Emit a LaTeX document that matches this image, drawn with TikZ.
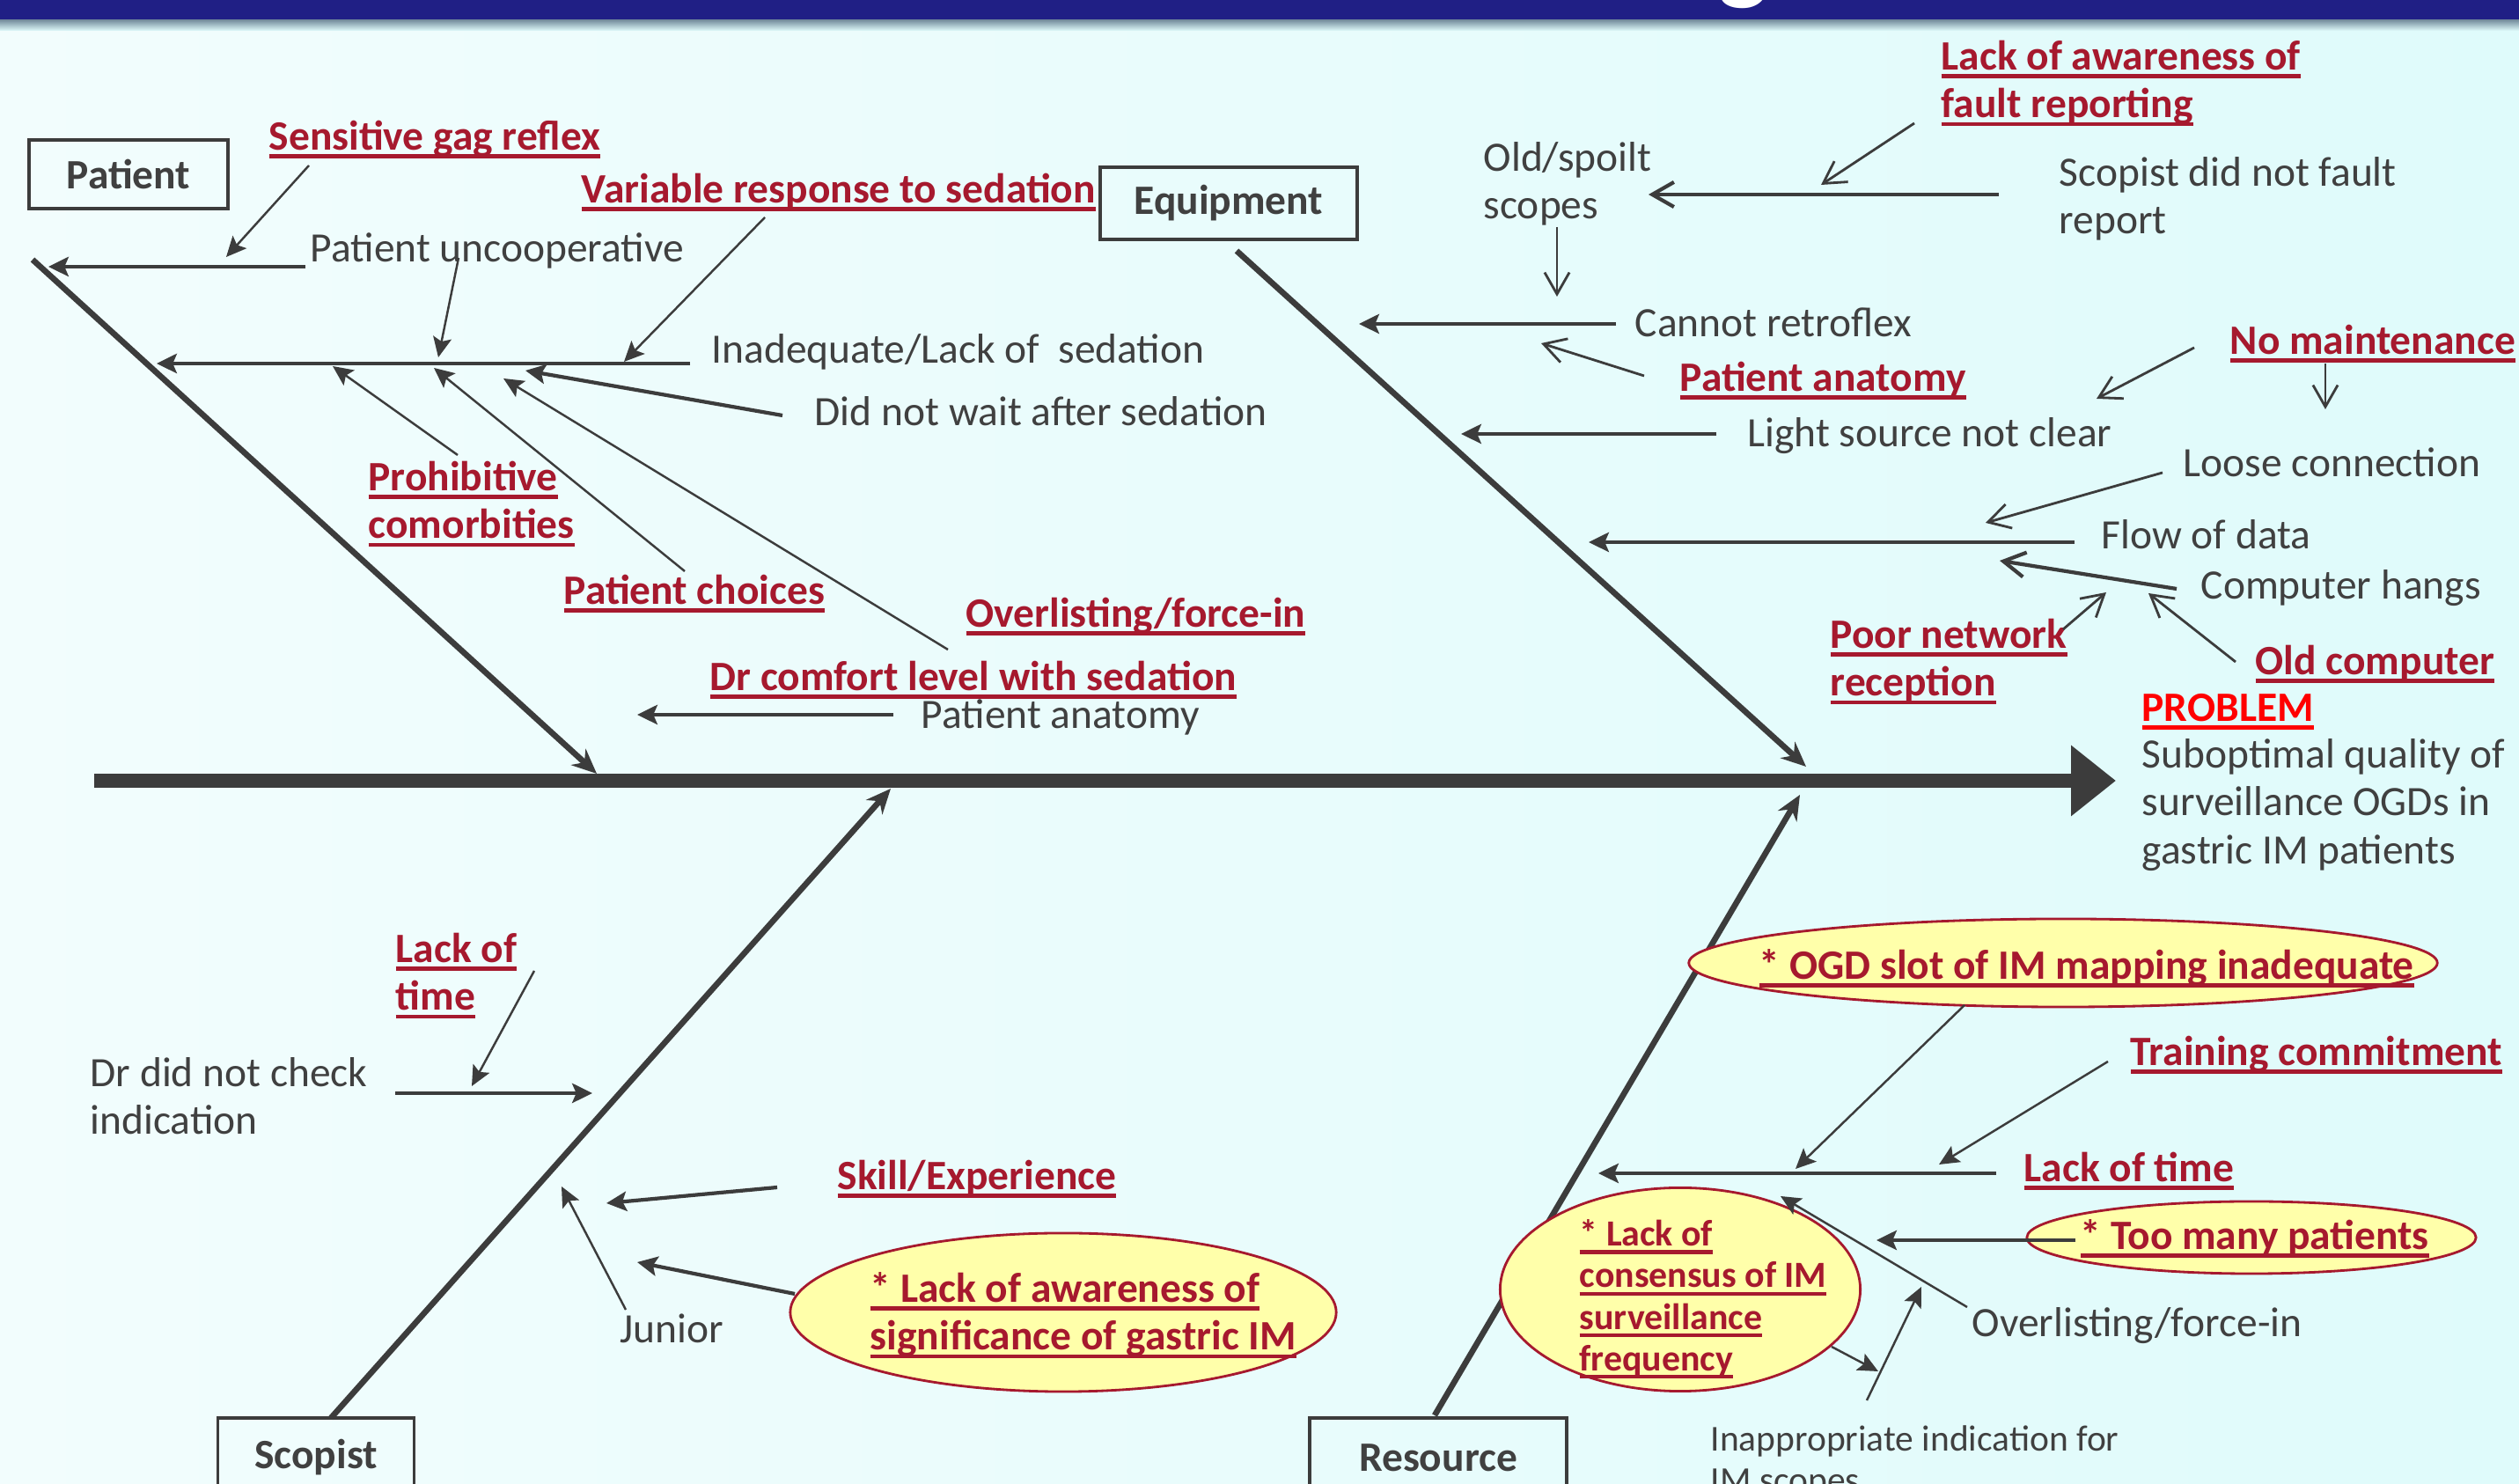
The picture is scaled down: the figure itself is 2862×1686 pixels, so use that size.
\documentclass[tikz,border=0pt]{standalone}
\usepackage{fontspec}
\setmainfont{Carlito}
\usetikzlibrary{arrows.meta,shapes.geometric}

\definecolor{txtgray}{HTML}{404040}
\definecolor{linegray}{HTML}{3C3C3C}
\definecolor{causered}{HTML}{A6192E}
\definecolor{probred}{HTML}{FF0000}
\definecolor{notefill}{HTML}{FFFFAA}
\definecolor{barblue}{HTML}{201F85}
\definecolor{barshadow}{HTML}{7890A0}
\definecolor{bgleft}{HTML}{F2FDFD}
\definecolor{bgright}{HTML}{DFFBFB}

\newsavebox{\ulbox}
\newcommand{\uln}[1]{\sbox{\ulbox}{#1}\rlap{\rule[-2.6pt]{\wd\ulbox}{1.3pt}}\usebox{\ulbox}}
\newcommand{\txtlines}[1]{\begin{tabular}[t]{@{}l@{}}#1\end{tabular}}

\tikzset{
  txt/.style={inner sep=0pt, anchor=base west, yshift=-0.8pt, text=txtgray, font=\fontsize{13.5}{15.4}\selectfont},
  txtsmall/.style={txt, font=\fontsize{11.8}{13.4}\selectfont},
  cause/.style={txt, text=causered, font=\fontsize{13.5}{15.4}\selectfont\bfseries},
  causesmall/.style={cause, font=\fontsize{11.9}{13.4}\selectfont\bfseries},
  catbox/.style={draw=linegray, line width=1pt, text=txtgray, font=\fontsize{13.5}{15.4}\selectfont\bfseries},
  note/.style={ellipse, draw=causered, line width=0.8pt, fill=notefill, inner sep=0pt},
  spine/.style={draw=linegray, line width=4.6pt, -{Triangle[length=14.5pt,width=22pt]}},
  bone/.style={draw=linegray, line width=1.9pt, -{Stealth[length=8pt,width=7pt]}},
  fat/.style={draw=linegray, line width=1.2pt, -{Stealth[length=6.5pt,width=6.3pt,inset=1.3pt]}},
  slim/.style={draw=linegray, line width=0.7pt, -{Stealth[length=6.5pt,width=6pt,inset=1.3pt]}},
  vee/.style={draw=linegray, line width=0.8pt, -{Straight Barb[length=7pt,width=8pt]}},
  fatvee/.style={vee, line width=1.2pt}
}

\begin{document}
\begin{tikzpicture}[x=0.01cm,y=-0.01cm]
\useasboundingbox (0,0) rectangle (2862,1686);
\clip (0,0) rectangle (2862,1686);
% background and title bar
\shade[left color=bgleft, right color=bgright] (0,0) rectangle (2862,1686);
\fill[barblue] (0,0) rectangle (2862,23);
\shade[top color=barshadow, bottom color=bgright] (0,23) rectangle (2862,35);
\node[inner sep=0pt, anchor=base west, text=white, font=\fontsize{34}{34}\selectfont\bfseries] (ttl) at (1952,-10) {g};

% spine and bones
\coordinate (sp0) at (107,887);
\coordinate (sp1) at (2404,887);
\coordinate (pb0) at (37,295);   \coordinate (pb1) at (678,879);
\coordinate (eb0) at (1405,285); \coordinate (eb1) at (2052,871);
\coordinate (sb0) at (376,1611); \coordinate (sb1) at (1012,896);
\coordinate (rb0) at (1630,1608); \coordinate (rb1) at (2045,903);
\draw[spine] (sp0) -- (sp1);
\draw[bone] (pb0) -- (pb1); % Patient
\draw[bone] (eb0) -- (eb1); % Equipment
\draw[bone] (sb0) -- (sb1); % Scopist
\draw[bone] (rb0) -- (rb1); % Resource

% Patient
\node[catbox, minimum width=2.26cm, minimum height=0.78cm] (patbox) at (146,198) {Patient\hspace{0.35cm}};
\node[cause] (sgr) at (305,168) {\uln{Sensitive gag reflex}};
\node[txt] (puc) at (352,295) {Patient uncooperative};
\node[cause] (vrs) at (660,228) {\uln{Variable response to sedation}};
\node[txt] (inad) at (808,410) {Inadequate/Lack of\ \ sedation};
\node[txt] (dnw) at (925,481) {Did not wait after sedation};
\node[cause] (proh) at (418,555) {\txtlines{\uln{Prohibitive}\\\uln{comorbities}}};
\node[cause] (pch) at (640,684) {\uln{Patient choices}};
\node[cause] (ovl) at (1097,710) {\uln{Overlisting/force-in}};
\node[cause] (dcl) at (806,782) {\uln{Dr comfort level with sedation}};
\node[txt] (pan) at (1046,825) {Patient anatomy};
\coordinate (puc0) at (347,303);  \coordinate (puc1) at (55,303);
\coordinate (sgr0) at (351,188);  \coordinate (sgr1) at (257,292);
\coordinate (inad0) at (784,413); \coordinate (inad1) at (178,413);
\coordinate (vrs0) at (869,247);  \coordinate (vrs1) at (709,411);
\coordinate (puc2) at (521,293);  \coordinate (puc3) at (498,406);
\coordinate (dnw0) at (889,472);  \coordinate (dnw1) at (597,421);
\coordinate (proh0) at (520,517); \coordinate (proh1) at (378,416);
\coordinate (pch0) at (778,649);  \coordinate (pch1) at (493,418);
\coordinate (ovl0) at (1077,738); \coordinate (ovl1) at (572,430);
\coordinate (pan0) at (1015,812); \coordinate (pan1) at (724,812);
\draw[fat] (puc0) -- (puc1);
\draw[slim] (sgr0) -- (sgr1);
\draw[fat] (inad0) -- (inad1);
\draw[slim] (vrs0) -- (vrs1);
\draw[slim] (puc2) -- (puc3);
\draw[fat] (dnw0) -- (dnw1);
\draw[slim] (proh0) -- (proh1);
\draw[slim] (pch0) -- (pch1);
\draw[slim] (ovl0) -- (ovl1);
\draw[fat] (pan0) -- (pan1);

% Equipment
\node[catbox, minimum width=2.92cm, minimum height=0.82cm] (eqbox) at (1396,231) {Equipment\hspace{0.2cm}};
\node[cause] (lafr) at (2205,77) {\txtlines{\uln{Lack of awareness of}\\\uln{fault reporting}}};
\node[txt] (osc) at (1685,192) {\txtlines{Old/spoilt\\scopes}};
\node[txt] (sdnf) at (2339,209) {\txtlines{Scopist did not fault\\report}};
\node[txt] (crf) at (1857,380) {Cannot retroflex};
\node[cause] (pana) at (1908,442) {\uln{Patient anatomy}};
\node[cause] (nomt) at (2533,400) {\uln{No maintenance}};
\node[txt] (lsnc) at (1985,505) {Light source not clear};
\node[txt] (lcon) at (2480,539) {Loose connection};
\node[txt] (fod) at (2387,621) {Flow of data};
\node[txt] (chg) at (2500,678) {Computer hangs};
\node[cause] (pnr) at (2079,734) {\txtlines{\uln{Poor network}\\\uln{reception}}};
\node[cause] (oldc) at (2562,764) {\uln{Old computer}};
\coordinate (sdnf0) at (2271,221); \coordinate (sdnf1) at (1873,221);
\coordinate (lafr0) at (2175,140); \coordinate (lafr1) at (2069,210);
\coordinate (osc0) at (1769,258);  \coordinate (osc1) at (1769,337);
\coordinate (crf0) at (1836,368);  \coordinate (crf1) at (1544,368);
\coordinate (pana0) at (1868,427); \coordinate (pana1) at (1751,390);
\coordinate (nomt0) at (2493,395); \coordinate (nomt1) at (2382,453);
\coordinate (nomt2) at (2642,413); \coordinate (nomt3) at (2642,465);
\coordinate (lsnc0) at (1950,493); \coordinate (lsnc1) at (1660,493);
\coordinate (lcon0) at (2457,537); \coordinate (lcon1) at (2256,594);
\coordinate (fod0) at (2357,616);  \coordinate (fod1) at (1805,616);
\coordinate (chg0) at (2473,669);  \coordinate (chg1) at (2272,637);
\coordinate (pnr0) at (2344,715);  \coordinate (pnr1) at (2393,673);
\coordinate (oldc0) at (2540,752); \coordinate (oldc1) at (2441,674);
\draw[fatvee] (sdnf0) -- (sdnf1);
\draw[vee] (lafr0) -- (lafr1);
\draw[vee] (osc0) -- (osc1);
\draw[fat] (crf0) -- (crf1);
\draw[vee] (pana0) -- (pana1);
\draw[vee] (nomt0) -- (nomt1);
\draw[vee] (nomt2) -- (nomt3);
\draw[fat] (lsnc0) -- (lsnc1);
\draw[vee] (lcon0) -- (lcon1);
\draw[fat] (fod0) -- (fod1);
\draw[fatvee] (chg0) -- (chg1);
\draw[vee] (pnr0) -- (pnr1);
\draw[vee] (oldc0) -- (oldc1);

% Problem
\node[cause, text=probred] (prob) at (2433,817) {\uln{PROBLEM}};
\node[txt] (subopt) at (2433,870) {\txtlines{Suboptimal quality of\\surveillance OGDs in\\gastric IM patients}};

% Scopist
\node[catbox, minimum width=2.23cm, minimum height=0.9cm] (scbox) at (359,1656) {Scopist\hspace{0.2cm}};
\node[cause] (lot) at (449,1091) {\txtlines{\uln{Lack of}\\\uln{time}}};
\node[txt] (ddnc) at (102,1232) {\txtlines{Dr did not check\\indication}};
\node[cause] (skx) at (951,1349) {\uln{Skill/Experience}};
\node[txt] (jun) at (704,1523) {Junior};
\node[note, minimum width=6.2cm, minimum height=1.8cm] (awe) at (1208,1491) {};
\node[cause] (awet) at (988,1477) {\txtlines{\uln{* Lack of awareness of}\\\uln{significance of gastric IM}}};
\coordinate (lot0) at (607,1103);  \coordinate (lot1) at (536,1234);
\coordinate (ddnc0) at (449,1242); \coordinate (ddnc1) at (673,1242);
\coordinate (skx0) at (883,1349);  \coordinate (skx1) at (689,1367);
\coordinate (jun0) at (711,1488);  \coordinate (jun1) at (638,1348);
\coordinate (awe0) at (903,1470);  \coordinate (awe1) at (724,1434);
\draw[slim] (lot0) -- (lot1);
\draw[fat] (ddnc0) -- (ddnc1);
\draw[fat] (skx0) -- (skx1);
\draw[slim] (jun0) -- (jun1);
\draw[fat] (awe0) -- (awe1);

% Resource
\node[catbox, minimum width=2.92cm, minimum height=0.9cm] (rsbox) at (1634,1656) {Resource\hspace{0.4cm}};
\node[note, minimum width=8.5cm, minimum height=1.0cm] (ogd) at (2344,1094) {};
\node[cause] (ogdt) at (1998,1110) {\uln{* OGD slot of IM mapping inadequate}};
\node[cause] (trc) at (2420,1208) {\uln{Training commitment}};
\node[cause] (lotr) at (2299,1340) {\uln{Lack of time}};
\node[note, minimum width=5.1cm, minimum height=0.82cm] (tmp) at (2558,1406) {};
\node[cause] (tmpt) at (2363,1417) {\uln{* Too many patients}};
\node[note, minimum width=4.09cm, minimum height=2.31cm] (cons) at (1909,1465) {};
\node[causesmall] (const) at (1794,1413) {\txtlines{\uln{* Lack of}\\\uln{consensus of IM}\\\uln{surveillance}\\\uln{frequency}}};
\node[txt] (ovr) at (2240,1516) {Overlisting/force-in};
\node[txtsmall] (inap) at (1943,1646) {\txtlines{Inappropriate indication for\\IM scopes}};
\coordinate (ogd0) at (2232,1142);  \coordinate (ogd1) at (2040,1328);
\coordinate (trc0) at (2395,1206);  \coordinate (trc1) at (2203,1323);
\coordinate (lotr0) at (2268,1333); \coordinate (lotr1) at (1816,1333);
\coordinate (tmp0) at (2358,1409);  \coordinate (tmp1) at (2132,1409);
\coordinate (ovr0) at (2235,1485);  \coordinate (ovr1) at (2023,1359);
\coordinate (inap0) at (2121,1591); \coordinate (inap1) at (2183,1462);
\coordinate (cons0) at (2081,1530); \coordinate (cons1) at (2134,1558);
\draw[slim] (ogd0) -- (ogd1);
\draw[slim] (trc0) -- (trc1);
\draw[fat] (lotr0) -- (lotr1);
\draw[fat] (tmp0) -- (tmp1);
\draw[slim] (ovr0) -- (ovr1);
\draw[slim] (inap0) -- (inap1);
\draw[slim] (cons0) -- (cons1);
\end{tikzpicture}
\end{document}
